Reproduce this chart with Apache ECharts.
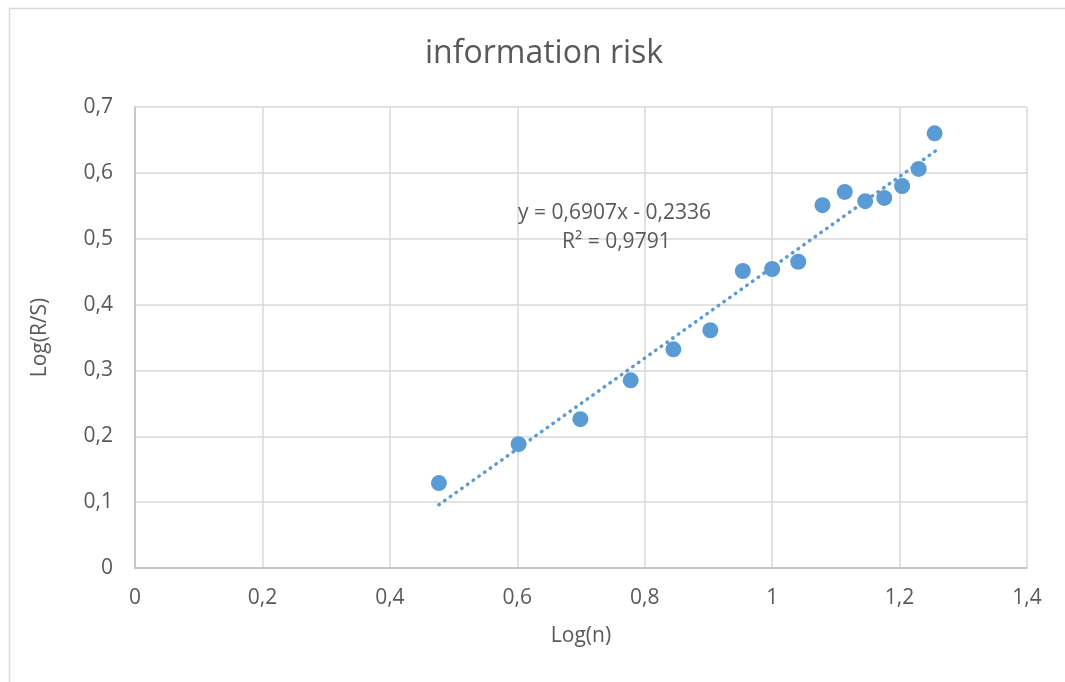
<!DOCTYPE html>
<html>
<head>
<meta charset="utf-8">
<title>information risk</title>
<script src="https://cdn.jsdelivr.net/npm/echarts@6/dist/echarts.min.js"></script>
<style>
  html, body { margin: 0; padding: 0; background: #fff; }
  #chart { width: 1065px; height: 682px; }
</style>
</head>
<body>
<div id="chart"></div>
<script>
// Log(n) values of the points
const logN = [0.477, 0.602, 0.699, 0.778, 0.845, 0.903, 0.954, 1.0, 1.041, 1.079, 1.114, 1.146, 1.176, 1.204, 1.230, 1.255];
// Log(R/S) values
const logRS = [0.129, 0.188, 0.226, 0.285, 0.332, 0.361, 0.451, 0.454, 0.465, 0.551, 0.571, 0.557, 0.562, 0.580, 0.606, 0.660];
// ends of the linear trend line, as drawn
const trendX = [0.477, 1.259];
const trendY = [0.096, 0.635];
const equationText = "y = 0,6907x - 0,2336";
const r2Text = "R² = 0,9791";

const points = logN.map((x, i) => [x, logRS[i]]);
const trend = trendX.map((x, i) => [x, trendY[i]]);

const font = "'Open Sans', 'Noto Sans', sans-serif";
const textColor = "#595959";
const blue = "#5b9bd5";
const comma = (v) => String(v).replace(".", ",");

const chart = echarts.init(document.getElementById("chart"), null, { renderer: "canvas" });

const option = {
  backgroundColor: "#fff",
  animation: false,
  title: {
    text: "information risk",
    left: 420,
    top: 33,
    textStyle: { fontFamily: font, fontSize: 32, fontWeight: "normal", color: textColor }
  },
  grid: { left: 135, right: 38, top: 107, bottom: 114 },
  xAxis: {
    type: "value",
    min: 0,
    max: 1.4,
    interval: 0.2,
    name: "Log(n)",
    nameLocation: "middle",
    nameGap: 58,
    nameTextStyle: { fontFamily: font, fontSize: 21, color: textColor },
    axisLine: { show: true, lineStyle: { color: "#bfbfbf", width: 1.5 } },
    axisTick: { show: false },
    axisLabel: { fontFamily: font, fontSize: 21, color: textColor, margin: 20, formatter: comma },
    splitLine: { show: true, lineStyle: { color: "#d9d9d9", width: 1.5 } }
  },
  yAxis: {
    type: "value",
    min: 0,
    max: 0.7,
    interval: 0.1,
    name: "Log(R/S)",
    nameLocation: "middle",
    nameGap: 84,
    nameTextStyle: { fontFamily: font, fontSize: 21, color: textColor },
    axisLine: { show: true, lineStyle: { color: "#bfbfbf", width: 1.5 } },
    axisTick: { show: false },
    axisLabel: { fontFamily: font, fontSize: 21, color: textColor, margin: 22, formatter: comma },
    splitLine: { show: true, lineStyle: { color: "#d9d9d9", width: 1.5 } }
  },
  series: [
    {
      name: "trend",
      type: "line",
      data: trend,
      showSymbol: false,
      silent: true,
      lineStyle: { color: blue, width: 3.5, type: [0.5, 6.5], cap: "round" },
      z: 2
    },
    {
      name: "Log(R/S)",
      type: "scatter",
      data: points,
      symbolSize: 16,
      itemStyle: { color: blue, opacity: 1 },
      z: 3
    }
  ],
  graphic: [
    {
      type: "rect",
      silent: true,
      shape: { x: 9.5, y: 8.5, width: 1100, height: 700 },
      style: { fill: "none", stroke: "#d9d9d9", lineWidth: 1.5 },
      z: -1
    },
    {
      type: "text",
      left: 518,
      top: 203,
      style: { text: equationText, fontFamily: font, fontSize: 21, fill: textColor },
      z: 10
    },
    {
      type: "text",
      left: 562,
      top: 232,
      style: { text: r2Text, fontFamily: font, fontSize: 21, fill: textColor },
      z: 10
    }
  ]
};

chart.setOption(option);
</script>
</body>
</html>
